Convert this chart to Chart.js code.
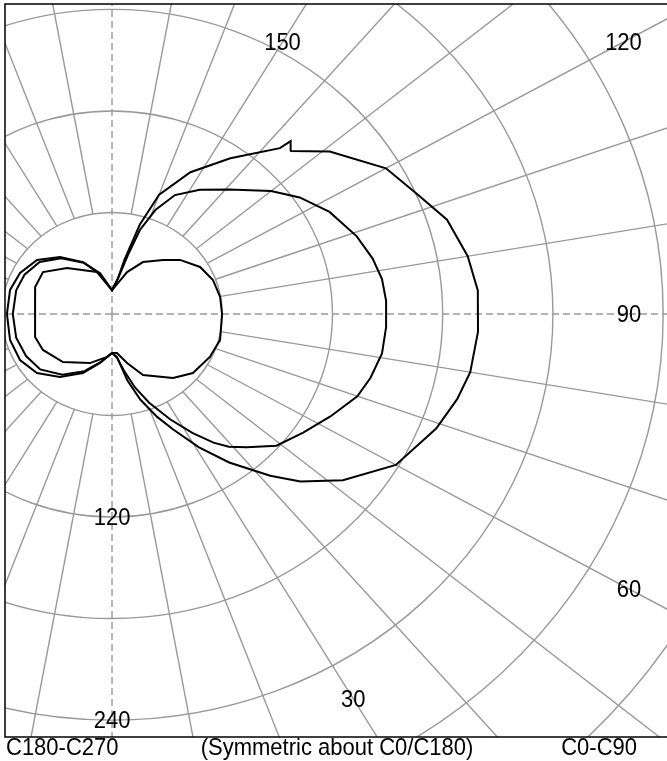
<!DOCTYPE html>
<html>
<head>
<meta charset="utf-8">
<script src="https://cdn.jsdelivr.net/npm/chart.js@4"></script>
<style>
  html, body { margin: 0; padding: 0; background: #fff; }
  #wrap { position: relative; width: 667px; height: 761px; }
</style>
</head>
<body>
<div id="wrap"><canvas id="polar"></canvas></div>
<script>
/* Luminous intensity polar plot (cd), gamma 0 = straight down */

// outer curve: right half (C0-C90) and left half (C180-C270)
let outerRightGamma = [0, 6, 12, 17, 22, 26, 31, 36, 42, 46, 52, 60, 69, 75, 80, 87, 94, 100, 107, 113, 120, 129, 134.8, 136.4, 137, 145, 153, 160, 164, 168, 172, 180];
let outerRightCd    = [23, 25.5, 40, 53, 65.6, 76, 92, 108.5, 128.7, 142.6, 159.5, 178.4, 189, 194.5, 198, 199.5, 199.6, 196.6, 190.7, 180.7, 172.2, 152.5, 136.6, 141, 134, 112.3, 94, 75, 55, 33, 20, 14];
let outerLeftGamma  = [0, 12.7, 24.4, 37.3, 49.5, 61.5, 74.5, 90, 104.4, 115.8, 128, 140, 152.8, 165, 180];
let outerLeftCd     = [23, 29.7, 38.3, 46.8, 53.7, 57, 57.6, 57.2, 57.3, 55.6, 51.8, 44, 34.5, 25, 14];

// middle curve
let middleRightGamma = [0, 6, 11, 16, 21, 27, 32, 36, 39, 43, 49, 56, 63, 70, 75, 81, 87, 93, 98, 103, 109, 117, 124, 130, 139, 147, 154, 159, 163, 166, 171, 180];
let middleRightCd    = [23, 26, 34, 45, 56, 70, 83, 94, 101, 107.6, 118.6, 125.5, 133.4, 142.1, 145.7, 148.8, 149.4, 149.4, 148.4, 145.6, 140.9, 132.9, 123.2, 113, 97.4, 87.6, 78.2, 65.8, 51.9, 36, 21.5, 14];
let middleLeftGamma  = [0, 12, 24, 37, 50, 62, 75, 90, 105, 116, 128, 140, 153, 165, 180];
let middleLeftCd     = [23, 29, 37, 45, 51, 53, 54, 54, 54, 53, 50, 43, 34, 24, 14];

// inner curve
let innerRightGamma = [0, 6.7, 15.8, 25.1, 41.3, 51.6, 64.5, 75.3, 90, 99.7, 110.1, 120.1, 130.8, 138.9, 151.2, 161.7, 180];
let innerRightCd    = [23, 23.2, 30.1, 39.8, 50.3, 56.2, 59, 60.8, 59.9, 59.7, 58.5, 55.4, 48.9, 42.3, 35, 26.1, 14];
let innerLeftGamma  = [0, 6, 22.5, 43.2, 60.5, 72, 90, 110.9, 123.4, 138, 161.7, 180];
let innerLeftCd     = [23, 25.5, 31.4, 39, 43.2, 44, 41.9, 44.8, 45, 36.6, 26.1, 14];

// grid
let ringValues = [60, 120, 180, 240, 300, 360];
let ringLabels = [120, 240];
let spokeStep = 10;
let angleLabels = [30, 60, 90, 120, 150];
let footerTexts = ["C180-C270", "(Symmetric about C0/C180)", "C0-C90"];

const RAD = Math.PI / 180;

function toXY(gammas, cds, side) {
  return gammas.map(function (g, i) {
    return { x: side * cds[i] * Math.sin(g * RAD), y: -cds[i] * Math.cos(g * RAD) };
  });
}

function closedCurve(rg, rc, lg, lc) {
  let right = toXY(rg, rc, 1);
  let left = toXY(lg.slice().reverse(), lc.slice().reverse(), -1);
  return right.concat(left);
}

function curveSet(points) {
  return {
    data: points,
    showLine: true,
    borderColor: "#000",
    borderWidth: 2,
    pointRadius: 0,
    tension: 0,
    fill: false,
  };
}

const GRID = "#999999";
const FONT = "22px 'Liberation Sans', Arial, sans-serif";

// text is a little taller than the plain font
function label(ctx, text, x, y) {
  ctx.save();
  ctx.translate(x, y);
  ctx.scale(1, 1.12);
  ctx.fillText(text, 0, 0);
  ctx.restore();
}

const polarGrid = {
  id: "polarGrid",
  beforeDatasetsDraw(chart) {
    const { ctx, chartArea: a, scales } = chart;
    const sx = scales.x, sy = scales.y;
    const cx = sx.getPixelForValue(0), cy = sy.getPixelForValue(0);
    const pt = (g, r) => [sx.getPixelForValue(r * Math.sin(g * RAD)), sy.getPixelForValue(-r * Math.cos(g * RAD))];

    ctx.save();
    ctx.beginPath();
    ctx.rect(a.left, a.top, a.right - a.left, a.bottom - a.top);
    ctx.clip();
    ctx.strokeStyle = GRID;
    ctx.lineWidth = 1.4;

    ringValues.forEach(function (r) {
      ctx.beginPath();
      ctx.ellipse(cx, cy, sx.getPixelForValue(r) - cx, cy - sy.getPixelForValue(r), 0, 0, 2 * Math.PI);
      ctx.stroke();
    });

    for (let g = 0; g < 360; g += spokeStep) {
      let axis = g % 90 === 0;
      ctx.setLineDash(axis ? [7, 4] : []);
      let p0 = pt(g, axis ? 0 : ringValues[0]);
      let p1 = pt(g, 800);
      ctx.beginPath();
      ctx.moveTo(p0[0], p0[1]);
      ctx.lineTo(p1[0], p1[1]);
      ctx.stroke();
    }
    ctx.restore();
  },
  afterDraw(chart) {
    const { ctx, chartArea: a, scales } = chart;
    const sx = scales.x, sy = scales.y;
    const cx = sx.getPixelForValue(0), cy = sy.getPixelForValue(0);

    ctx.save();
    ctx.fillStyle = "#000";
    ctx.font = FONT;
    ctx.textAlign = "center";
    ctx.textBaseline = "middle";

    // candela values on the downward axis
    ringLabels.forEach(function (r) {
      label(ctx, String(r), cx, sy.getPixelForValue(-r) + 1);
    });

    // gamma angles, placed where each ray meets an inset box
    const inset = 38;
    angleLabels.forEach(function (g) {
      let dx = sx.getPixelForValue(Math.sin(g * RAD)) - cx;
      let dy = sy.getPixelForValue(-Math.cos(g * RAD)) - cy;
      let tx = dx > 0 ? (a.right - inset - cx) / dx : dx < 0 ? (a.left + inset - cx) / dx : Infinity;
      let ty = dy > 0 ? (a.bottom - inset - cy) / dy : dy < 0 ? (a.top + inset - cy) / dy : Infinity;
      let t = Math.min(tx, ty);
      label(ctx, String(g), cx + t * dx, cy + t * dy + 1);
    });

    // frame
    ctx.strokeStyle = "#000";
    ctx.lineWidth = 1.5;
    ctx.strokeRect(a.left, a.top, a.right - a.left + 4, a.bottom - a.top);

    // footer
    let fy = a.bottom + 11;
    ctx.textAlign = "left";
    label(ctx, footerTexts[0], 6, fy);
    ctx.textAlign = "center";
    label(ctx, footerTexts[1], 337, fy);
    ctx.textAlign = "right";
    label(ctx, footerTexts[2], 637, fy);
    ctx.restore();
  },
};

new Chart("polar", {
  type: "scatter",
  data: {
    datasets: [
      curveSet(closedCurve(outerRightGamma, outerRightCd, outerLeftGamma, outerLeftCd)),
      curveSet(closedCurve(middleRightGamma, middleRightCd, middleLeftGamma, middleLeftCd)),
      curveSet(closedCurve(innerRightGamma, innerRightCd, innerLeftGamma, innerLeftCd)),
    ],
  },
  options: {
    responsive: true,
    maintainAspectRatio: false,
    animation: false,
    layout: { padding: { left: 5, top: 4, right: 0, bottom: 24 } },
    plugins: { legend: { display: false }, tooltip: { enabled: false } },
    scales: {
      x: { type: "linear", min: -58.25, max: 302.1, display: false },
      y: { type: "linear", min: -250, max: 183.2, display: false },
    },
  },
  plugins: [polarGrid],
});
</script>
</body>
</html>
